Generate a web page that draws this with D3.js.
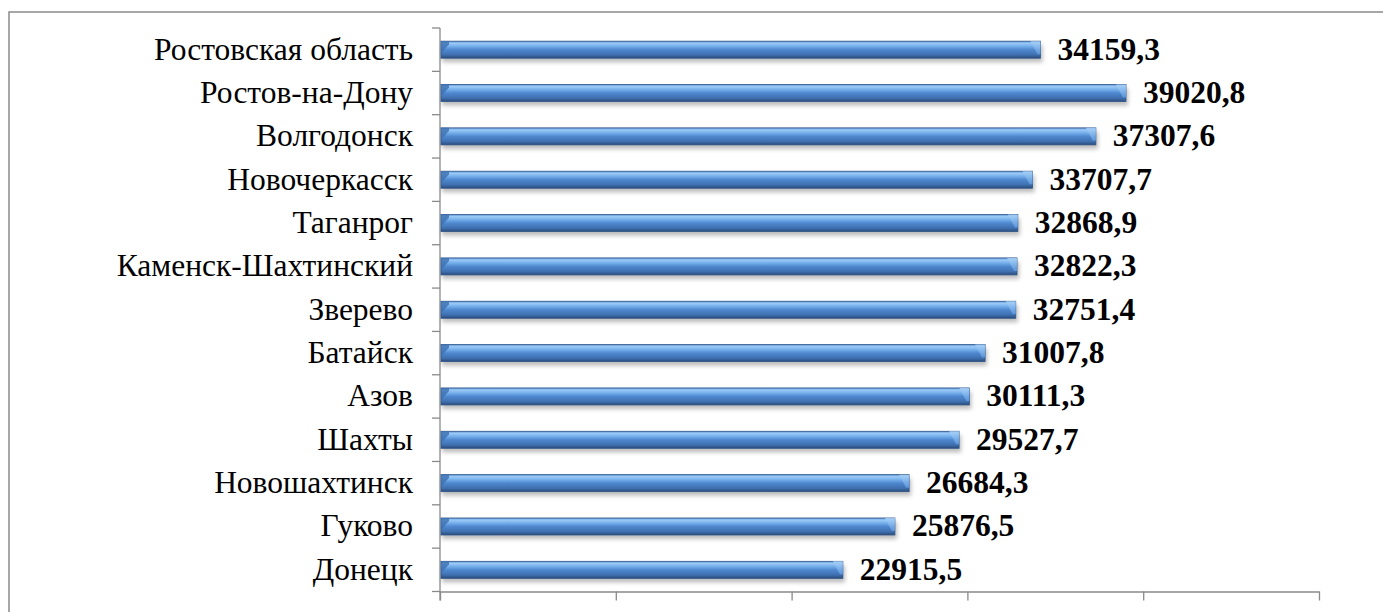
<!DOCTYPE html>
<html>
<head>
<meta charset="utf-8">
<script src="https://cdn.jsdelivr.net/npm/d3@7"></script>
<style>
  body{margin:0;background:#fff;}
  svg{display:block;}
  .lbl{font-family:"Liberation Serif","Times New Roman",Times,serif;}
</style>
</head>
<body>
<script>
// data, top to bottom as in the chart
const cities = ["Ростовская область","Ростов-на-Дону","Волгодонск","Новочеркасск","Таганрог",
  "Каменск-Шахтинский","Зверево","Батайск","Азов","Шахты","Новошахтинск","Гуково","Донецк"];
const values = [34159.3,39020.8,37307.6,33707.7,32868.9,32822.3,32751.4,31007.8,30111.3,29527.7,26684.3,25876.5,22915.5];
const xTicks = [0,10000,20000,30000,40000,50000];

const w=1383, h=612;

const svg=d3.select("body").append("svg").attr("width",w).attr("height",h);

const defs=svg.append("defs");
const grad=defs.append("linearGradient").attr("id","barGrad")
    .attr("x1",0).attr("y1",0).attr("x2",0).attr("y2",1);
[["0%","#5b93d6"],["12%","#9ccaf6"],["30%","#74aeea"],["50%","#4f88cf"],["80%","#3f70b0"],["100%","#2a4b7a"]]
  .forEach(s=>grad.append("stop").attr("offset",s[0]).attr("stop-color",s[1]));
const endGrad=defs.append("linearGradient").attr("id","endGrad")
    .attr("x1",0).attr("y1",0).attr("x2",0).attr("y2",1);
[["0%","#a9d2f8"],["100%","#5f9be0"]]
  .forEach(s=>endGrad.append("stop").attr("offset",s[0]).attr("stop-color",s[1]));
defs.append("filter").attr("id","blur").attr("x","-5%").attr("y","-50%").attr("width","110%").attr("height","200%")
  .append("feGaussianBlur").attr("stdDeviation",2.2);

// frame
svg.append("rect").attr("x",9).attr("y",12).attr("width",1400).attr("height",640)
  .attr("fill","none").attr("stroke","#8a8a8a").attr("stroke-width",1.5);

const x=d3.scaleLinear().domain([0,50000]).range([440,1319]);
const y=d3.scaleBand().domain(cities).range([28,591.5]).padding(0);
const bh=17;

// bottom axis, no labels
svg.append("g").attr("transform","translate(0,"+y.range()[1]+")")
  .call(d3.axisBottom(x).tickValues(xTicks).tickFormat("").tickSize(9).tickSizeOuter(0))
  .call(g=>g.selectAll("line,path").attr("stroke","#8a8a8a").attr("stroke-width",1.3));

// left axis with ticks between categories
const yl=svg.append("g");
yl.append("line").attr("x1",x(0)).attr("x2",x(0)).attr("y1",y.range()[0]).attr("y2",y.range()[1]+9)
  .attr("stroke","#8a8a8a").attr("stroke-width",1.3);
yl.selectAll(".tk").data(cities.map(c=>y(c)).concat([y.range()[1]])).enter().append("line")
  .attr("x1",x(0)-8).attr("x2",x(0)).attr("y1",d=>d).attr("y2",d=>d)
  .attr("stroke","#8a8a8a").attr("stroke-width",1.3);

const rows=svg.selectAll(".row").data(cities).enter().append("g")
  .attr("transform",d=>"translate(0,"+(y(d)+y.bandwidth()/2)+")");

// shadow
rows.append("rect").attr("x",x(0)+2).attr("y",-bh/2+4)
  .attr("width",(d,i)=>x(values[i])-x(0)).attr("height",bh)
  .attr("fill","#8f8f8f").attr("opacity",0.6).attr("filter","url(#blur)");

rows.append("rect").attr("x",x(0)+1).attr("y",-bh/2)
  .attr("width",(d,i)=>x(values[i])-x(0)-1).attr("height",bh)
  .attr("fill","url(#barGrad)").attr("stroke","#2f5588").attr("stroke-width",0.8);

// bevel at the ends
rows.append("path")
  .attr("d",(d,i)=>{const e=x(values[i]);return "M"+(e-10)+","+(-bh/2)+"L"+e+","+(-bh/2)+"L"+e+","+(bh/2-4)+"L"+(e-3)+","+(bh/2-4)+"Z";})
  .attr("fill","url(#endGrad)").attr("opacity",0.85);
rows.append("path")
  .attr("d","M"+(x(0)+1)+","+(-bh/2)+"L"+(x(0)+9)+","+(-bh/2)+"L"+(x(0)+9)+","+(-bh/2+3)+"L"+(x(0)+1)+","+(bh/2-5)+"Z")
  .attr("fill","#3c6fb0").attr("opacity",0.8);

// category labels
rows.append("text").attr("class","lbl")
  .attr("x",413).attr("y",10)
  .attr("text-anchor","end")
  .attr("font-size",31.5).attr("fill","#000")
  .text(d=>d);

// value labels
rows.append("text").attr("class","lbl")
  .attr("x",(d,i)=>x(values[i])+17).attr("y",10)
  .attr("font-size",31.5).attr("font-weight","bold").attr("fill","#000")
  .text((d,i)=>values[i].toFixed(1).replace(".",","));
</script>
</body>
</html>
